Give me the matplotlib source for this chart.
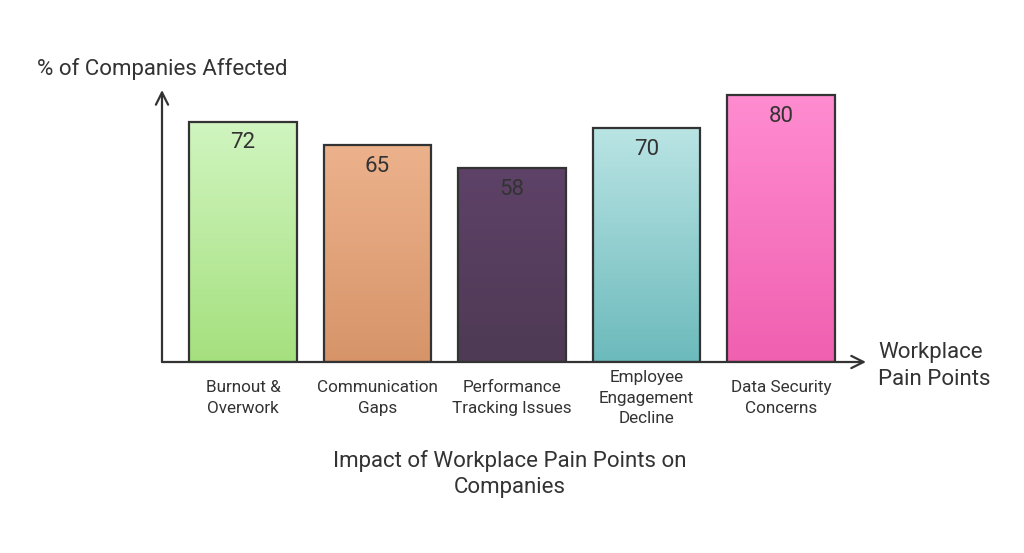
import matplotlib
matplotlib.use("Agg")
import matplotlib.pyplot as plt
import numpy as np
from matplotlib.colors import LinearSegmentedColormap

plt.rcParams['font.family'] = ['Roboto', 'DejaVu Sans']

categories = ["Burnout &\nOverwork", "Communication\nGaps", "Performance\nTracking Issues",
              "Employee\nEngagement\nDecline", "Data Security\nConcerns"]
values = [72, 65, 58, 70, 80]
top_colors = ["#d0f5c0", "#ecb28c", "#5e4268", "#bae4e4", "#ff8cd0"]
bottom_colors = ["#a5e07e", "#d79469", "#4e3a54", "#6cbabc", "#f060b0"]
y_label = "% of Companies Affected"
x_label = "Workplace\nPain Points"
title = "Impact of Workplace Pain Points on\nCompanies"

TEXT = "#333333"
EDGE = "#333333"

fig = plt.figure(figsize=(10.24, 5.53), dpi=100)
ax = fig.add_axes([162/1024, 1 - 362/553, (866-162)/1024, (362-90)/553])
x = np.arange(len(values))
ax.set_xlim(-0.602, 4.632)
ax.set_ylim(0, 81.5)
for s in ax.spines.values():
    s.set_visible(False)
ax.set_xticks([])
ax.set_yticks([])
ax.patch.set_alpha(0)

bars = ax.bar(x, values, width=0.8, facecolor='none', edgecolor=EDGE, linewidth=1.6, zorder=3)
grad = np.linspace(0, 1, 256).reshape(-1, 1)
for b, tc, bc, v in zip(bars, top_colors, bottom_colors, values):
    cmap = LinearSegmentedColormap.from_list("g", [bc, tc])
    bx, bw, bh = b.get_x(), b.get_width(), b.get_height()
    im = ax.imshow(grad, cmap=cmap, aspect='auto', origin='lower',
                   extent=[bx, bx + bw, 0, bh], zorder=2)
    im.set_clip_path(b)
    ax.annotate(str(v), (bx + bw/2, bh), xytext=(0, -21), textcoords='offset pixels',
                ha='center', va='center', fontsize=16, color=TEXT, zorder=4)

for xi, c in zip(x, categories):
    ax.annotate(c, (xi, 0), xytext=(0, -36), textcoords='offset pixels',
                ha='center', va='center', fontsize=12.3, color=TEXT, linespacing=1.48)

# axes arrows
ax.annotate("", xy=(0, 1.0), xytext=(0, 0), xycoords='axes fraction',
            arrowprops=dict(arrowstyle='->', color=EDGE, lw=1.6, mutation_scale=22, shrinkA=0, shrinkB=0))
ax.annotate("", xy=(1.0, 0), xytext=(0, 0), xycoords='axes fraction',
            arrowprops=dict(arrowstyle='->', color=EDGE, lw=1.6, mutation_scale=22, shrinkA=0, shrinkB=0))

fig.text(37/1024, 1 - 69/553, y_label, ha='left', va='center', fontsize=16, color=TEXT)
fig.text(878/1024, 1 - 366/553, x_label, ha='left', va='center', fontsize=16, color=TEXT, linespacing=1.35)
fig.text(510/1024, 1 - 474/553, title, ha='center', va='center', fontsize=16, color=TEXT, linespacing=1.33)

fig.savefig("out.png", dpi=100, facecolor='white')
